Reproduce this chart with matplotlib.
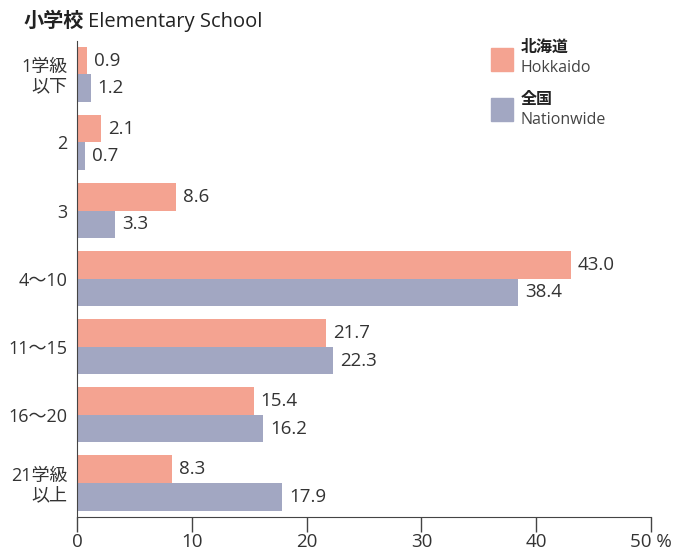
import matplotlib
matplotlib.use("Agg")
import matplotlib.pyplot as plt
import numpy as np
from matplotlib.patches import Rectangle

plt.rcParams['font.family'] = ['Open Sans', 'Noto Sans CJK JP', 'DejaVu Sans']

categories = ["1学級\n以下", "2", "3", "4〜10", "11〜15", "16〜20", "21学級\n以上"]
hokkaido = [0.9, 2.1, 8.6, 43.0, 21.7, 15.4, 8.3]
nationwide = [1.2, 0.7, 3.3, 38.4, 22.3, 16.2, 17.9]
xticks = [0, 10, 20, 30, 40, 50]
xtick_labels = ["0", "10", "20", "30", "40", "50 %"]

pink = "#F4A391"
blue = "#A2A7C2"
txt = "#333333"

fig = plt.figure(figsize=(6.75, 5.51), dpi=100)
ax = fig.add_axes([77 / 675, 34 / 551, 574 / 675, 476 / 551])

y = np.arange(len(categories))
h = 0.405
ax.barh(y - h / 2, hokkaido, height=h, color=pink)
ax.barh(y + h / 2, nationwide, height=h, color=blue)

for i in range(len(categories)):
    ax.text(hokkaido[i] + 0.6, y[i] - h / 2, f"{hokkaido[i]:.1f}", va="center", ha="left",
            fontsize=13.5, color=txt)
    ax.text(nationwide[i] + 0.6, y[i] + h / 2, f"{nationwide[i]:.1f}", va="center", ha="left",
            fontsize=13.5, color=txt)

ax.set_xlim(0, 50)
ax.set_ylim(6.5, -0.49)
ax.set_xticks(xticks)
ax.set_xticklabels(xtick_labels, fontsize=13.5, color=txt)
ax.set_yticks(y)
ax.set_yticklabels(categories, fontsize=13, color=txt, linespacing=1.1)
ax.tick_params(axis="y", length=0, pad=7)
ax.tick_params(axis="x", length=11, width=1, color="#444444", pad=0.5, direction="out")
for s in ["top", "right"]:
    ax.spines[s].set_visible(False)
ax.spines["left"].set_color("#444444")
ax.spines["bottom"].set_color("#444444")

# title
fig.text(24 / 675, 1 - 22 / 551, "小学校", fontsize=14.5, fontweight="bold", color="#222222",
         va="center", ha="left")
fig.text(88 / 675, 1 - 22 / 551, "Elementary School", fontsize=14.5, color="#222222",
         va="center", ha="left")

# legend
fig.add_artist(Rectangle((491 / 675, 1 - 71 / 551), 22 / 675, 23 / 551, color=pink,
                         transform=fig.transFigure))
fig.add_artist(Rectangle((491 / 675, 1 - 121 / 551), 22 / 675, 23 / 551, color=blue,
                         transform=fig.transFigure))
fig.text(521 / 675, 1 - 48 / 551, "北海道", fontsize=11.5, fontweight="bold", color="#222222",
         va="center", ha="left")
fig.text(520 / 675, 1 - 68 / 551, "Hokkaido", fontsize=11.5, color="#444444",
         va="center", ha="left")
fig.text(521 / 675, 1 - 100 / 551, "全国", fontsize=11.5, fontweight="bold", color="#222222",
         va="center", ha="left")
fig.text(520 / 675, 1 - 120 / 551, "Nationwide", fontsize=11.5, color="#444444",
         va="center", ha="left")

fig.savefig("out.png", dpi=100)
